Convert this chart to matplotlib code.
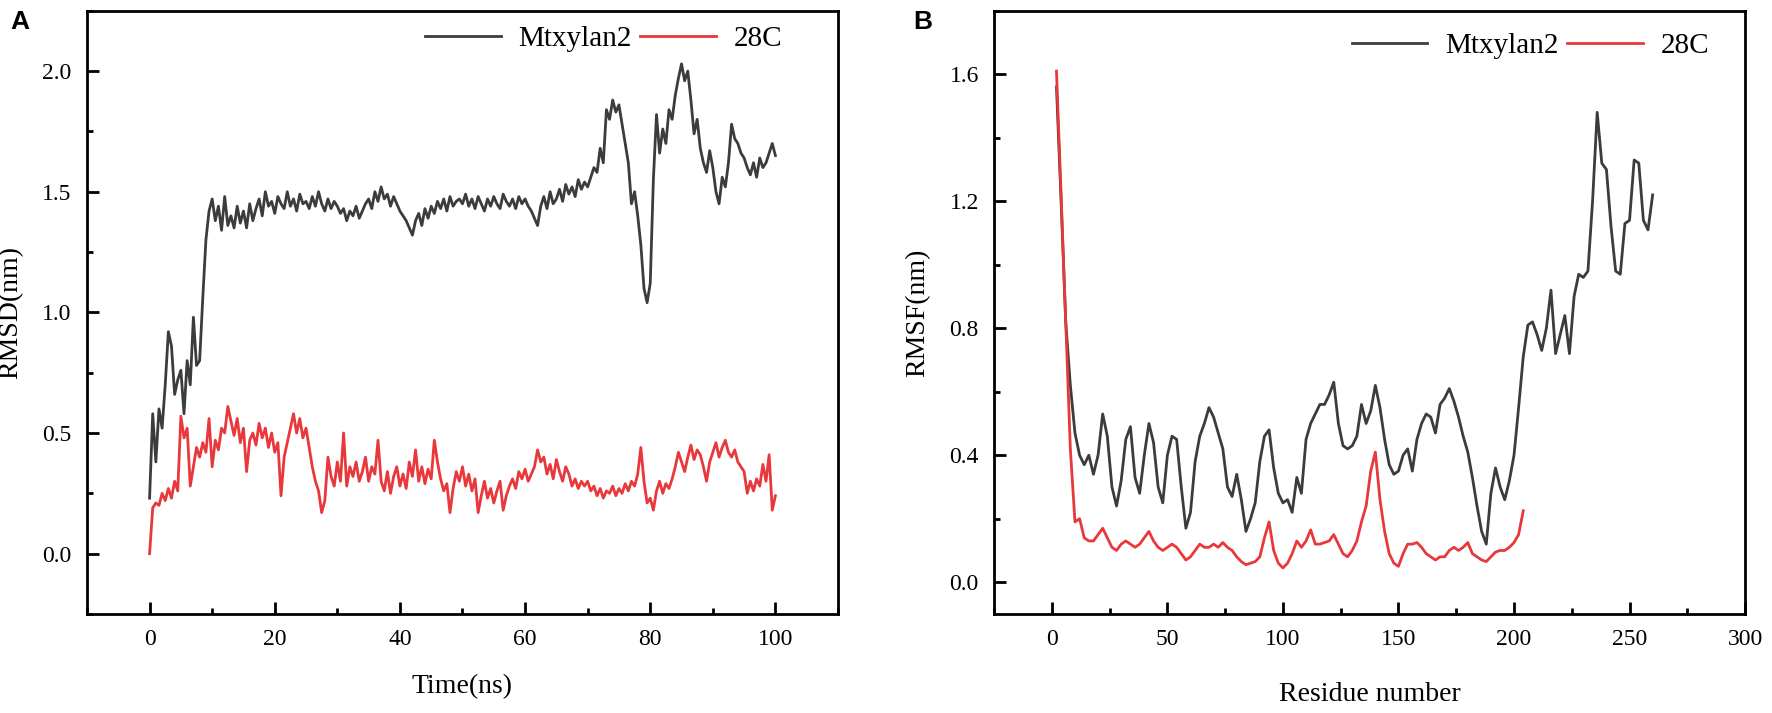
import numpy as np
import matplotlib
matplotlib.use("Agg")
import matplotlib.pyplot as plt
from matplotlib.ticker import MultipleLocator

plt.rcParams['font.family'] = ['Liberation Serif', 'DejaVu Serif']

# --- panel A: RMSD over time (0.5 ns steps) ---
time_ns = np.arange(0, 100.5, 0.5)
rmsd_mtxylan2 = [
    0.23, 0.58, 0.38, 0.60, 0.52, 0.70, 0.92, 0.86, 0.66, 0.72,
    0.76, 0.58, 0.80, 0.70, 0.98, 0.78, 0.80, 1.06, 1.30, 1.42,
    1.47, 1.38, 1.44, 1.34, 1.48, 1.36, 1.40, 1.35, 1.44, 1.37,
    1.42, 1.35, 1.45, 1.38, 1.43, 1.47, 1.40, 1.50, 1.44, 1.46,
    1.41, 1.48, 1.45, 1.43, 1.50, 1.44, 1.47, 1.42, 1.49, 1.45,
    1.46, 1.43, 1.48, 1.44, 1.50, 1.45, 1.42, 1.47, 1.43, 1.46,
    1.44, 1.41, 1.43, 1.38, 1.42, 1.40, 1.44, 1.39, 1.42, 1.45,
    1.47, 1.43, 1.50, 1.46, 1.52, 1.47, 1.49, 1.44, 1.48, 1.45,
    1.42, 1.40, 1.38, 1.35, 1.32, 1.38, 1.41, 1.36, 1.43, 1.39,
    1.44, 1.41, 1.46, 1.43, 1.47, 1.42, 1.48, 1.44, 1.46, 1.47,
    1.45, 1.49, 1.44, 1.47, 1.43, 1.48, 1.45, 1.42, 1.47, 1.44,
    1.48, 1.45, 1.43, 1.49, 1.46, 1.44, 1.47, 1.43, 1.48, 1.45,
    1.47, 1.44, 1.42, 1.39, 1.36, 1.44, 1.48, 1.43, 1.50, 1.45,
    1.47, 1.51, 1.46, 1.53, 1.49, 1.52, 1.48, 1.55, 1.51, 1.54,
    1.52, 1.56, 1.60, 1.58, 1.68, 1.62, 1.84, 1.80, 1.88, 1.83,
    1.86, 1.78, 1.70, 1.62, 1.45, 1.50, 1.40, 1.28, 1.10, 1.04,
    1.12, 1.55, 1.82, 1.66, 1.76, 1.70, 1.84, 1.80, 1.90, 1.97,
    2.03, 1.96, 2.00, 1.88, 1.74, 1.80, 1.68, 1.62, 1.58, 1.67,
    1.60, 1.50, 1.45, 1.56, 1.52, 1.62, 1.78, 1.72, 1.70, 1.66,
    1.64, 1.60, 1.57, 1.62, 1.56, 1.64, 1.60, 1.62, 1.66, 1.70,
    1.65,
]
rmsd_28c = [
    0.00, 0.19, 0.21, 0.20, 0.25, 0.22, 0.27, 0.23, 0.30, 0.26,
    0.57, 0.48, 0.52, 0.28, 0.36, 0.44, 0.40, 0.46, 0.42, 0.56,
    0.36, 0.47, 0.43, 0.52, 0.50, 0.61, 0.55, 0.49, 0.56, 0.46,
    0.52, 0.34, 0.47, 0.50, 0.45, 0.54, 0.48, 0.52, 0.44, 0.50,
    0.42, 0.46, 0.24, 0.40, 0.46, 0.52, 0.58, 0.50, 0.56, 0.48,
    0.52, 0.44, 0.36, 0.30, 0.26, 0.17, 0.22, 0.40, 0.32, 0.28,
    0.38, 0.30, 0.50, 0.28, 0.36, 0.32, 0.38, 0.30, 0.34, 0.40,
    0.30, 0.36, 0.33, 0.47, 0.30, 0.26, 0.34, 0.25, 0.32, 0.36,
    0.28, 0.33, 0.27, 0.38, 0.32, 0.43, 0.30, 0.36, 0.29, 0.35,
    0.31, 0.47, 0.38, 0.31, 0.26, 0.29, 0.17, 0.27, 0.34, 0.30,
    0.36, 0.28, 0.33, 0.26, 0.31, 0.17, 0.24, 0.30, 0.23, 0.27,
    0.21, 0.26, 0.30, 0.18, 0.24, 0.28, 0.31, 0.27, 0.34, 0.31,
    0.35, 0.30, 0.33, 0.36, 0.43, 0.38, 0.40, 0.33, 0.37, 0.31,
    0.39, 0.34, 0.30, 0.36, 0.33, 0.28, 0.31, 0.27, 0.30, 0.28,
    0.30, 0.26, 0.28, 0.24, 0.27, 0.23, 0.26, 0.25, 0.28, 0.24,
    0.27, 0.25, 0.29, 0.26, 0.30, 0.28, 0.33, 0.44, 0.30, 0.21,
    0.23, 0.18, 0.26, 0.30, 0.25, 0.29, 0.27, 0.31, 0.36, 0.42,
    0.38, 0.34, 0.40, 0.45, 0.39, 0.43, 0.41, 0.36, 0.30, 0.38,
    0.42, 0.46, 0.40, 0.44, 0.47, 0.42, 0.40, 0.43, 0.38, 0.36,
    0.34, 0.25, 0.30, 0.26, 0.31, 0.28, 0.37, 0.30, 0.41, 0.18,
    0.24,
]

# --- panel B: RMSF per residue (every 2nd residue) ---
res_mtxylan2 = np.arange(2, 261, 2)
rmsf_mtxylan2 = [
    1.56, 1.20, 0.82, 0.62, 0.47, 0.40, 0.37, 0.40, 0.34, 0.40,
    0.53, 0.46, 0.30, 0.24, 0.32, 0.45, 0.49, 0.33, 0.28, 0.40,
    0.50, 0.44, 0.30, 0.25, 0.40, 0.46, 0.45, 0.30, 0.17, 0.22,
    0.38, 0.46, 0.50, 0.55, 0.52, 0.47, 0.42, 0.30, 0.27, 0.34,
    0.26, 0.16, 0.20, 0.25, 0.38, 0.46, 0.48, 0.36, 0.28, 0.25,
    0.26, 0.22, 0.33, 0.28, 0.45, 0.50, 0.53, 0.56, 0.56, 0.59,
    0.63, 0.50, 0.43, 0.42, 0.43, 0.46, 0.56, 0.50, 0.54, 0.62,
    0.55, 0.45, 0.37, 0.34, 0.35, 0.40, 0.42, 0.35, 0.45, 0.50,
    0.53, 0.52, 0.47, 0.56, 0.58, 0.61, 0.57, 0.52, 0.46, 0.41,
    0.33, 0.24, 0.16, 0.12, 0.28, 0.36, 0.30, 0.26, 0.32, 0.40,
    0.55, 0.71, 0.81, 0.82, 0.78, 0.73, 0.80, 0.92, 0.72, 0.78,
    0.84, 0.72, 0.90, 0.97, 0.96, 0.98, 1.20, 1.48, 1.32, 1.30,
    1.12, 0.98, 0.97, 1.13, 1.14, 1.33, 1.32, 1.14, 1.11, 1.22,
]
res_28c = np.arange(2, 205, 2)
rmsf_28c = [
    1.61, 1.22, 0.82, 0.42, 0.19, 0.20, 0.14, 0.13, 0.13, 0.15,
    0.17, 0.14, 0.11, 0.10, 0.12, 0.13, 0.12, 0.11, 0.12, 0.14,
    0.16, 0.13, 0.11, 0.10, 0.11, 0.12, 0.11, 0.09, 0.07, 0.08,
    0.10, 0.12, 0.11, 0.11, 0.12, 0.11, 0.125, 0.11, 0.10, 0.08,
    0.065, 0.055, 0.06, 0.065, 0.08, 0.14, 0.19, 0.10, 0.06, 0.045,
    0.06, 0.09, 0.13, 0.11, 0.13, 0.165, 0.12, 0.12, 0.125, 0.13,
    0.15, 0.12, 0.09, 0.08, 0.10, 0.13, 0.19, 0.24, 0.35, 0.41,
    0.26, 0.16, 0.09, 0.06, 0.05, 0.09, 0.12, 0.12, 0.125, 0.11,
    0.09, 0.08, 0.07, 0.08, 0.08, 0.10, 0.11, 0.10, 0.11, 0.125,
    0.09, 0.08, 0.07, 0.065, 0.08, 0.095, 0.10, 0.10, 0.11, 0.125,
    0.15, 0.225,
]

BLACK = '#3c3c3c'
RED = '#e8383c'


def style_axes(ax):
    for sp in ax.spines.values():
        sp.set_linewidth(2.0)
        sp.set_color('black')
    ax.tick_params(which='both', direction='in', width=2.0, labelsize=17,
                   pad=11, top=False, right=False)
    ax.tick_params(which='major', length=8.5)
    ax.tick_params(which='minor', length=4.5)


def add_legend(ax, anchor):
    ax.legend(loc='center right', bbox_to_anchor=anchor, frameon=False,
              ncol=2, fontsize=21, handlelength=2.6, handletextpad=0.6,
              columnspacing=0.3, borderpad=0, borderaxespad=0)


fig = plt.figure(figsize=(17.72, 7.13), dpi=100)
ax_a = fig.add_axes([0.0491, 0.1389, 0.4238, 0.846])
ax_b = fig.add_axes([0.5610, 0.1389, 0.4238, 0.846])

# A
ax_a.plot(time_ns, rmsd_mtxylan2, color=BLACK, lw=2.0, label='Mtxylan2')
ax_a.plot(time_ns, rmsd_28c, color=RED, lw=2.0, label='28C')
ax_a.set_xlim(-10, 110)
ax_a.set_ylim(-0.25, 2.25)
ax_a.xaxis.set_major_locator(MultipleLocator(20))
ax_a.xaxis.set_minor_locator(MultipleLocator(10))
ax_a.yaxis.set_major_locator(MultipleLocator(0.5))
ax_a.yaxis.set_minor_locator(MultipleLocator(0.25))
ax_a.set_xticks([0, 20, 40, 60, 80, 100])
ax_a.yaxis.set_major_formatter(lambda v, p: f'{v:.1f}')
style_axes(ax_a)
ax_a.set_xlabel('Time(ns)', fontsize=20)
ax_a.set_ylabel('RMSD(nm)', fontsize=20)
ax_a.xaxis.set_label_coords(0.5, -0.1)
ax_a.yaxis.set_label_coords(-0.085, 0.5)
add_legend(ax_a, (0.926, 0.953))

# B
ax_b.plot(res_mtxylan2, rmsf_mtxylan2, color=BLACK, lw=2.0, label='Mtxylan2')
ax_b.plot(res_28c, rmsf_28c, color=RED, lw=2.0, label='28C')
ax_b.set_xlim(-25, 300)
ax_b.set_ylim(-0.1, 1.8)
ax_b.xaxis.set_major_locator(MultipleLocator(50))
ax_b.xaxis.set_minor_locator(MultipleLocator(25))
ax_b.yaxis.set_major_locator(MultipleLocator(0.4))
ax_b.yaxis.set_minor_locator(MultipleLocator(0.2))
ax_b.yaxis.set_major_formatter(lambda v, p: f'{v:.1f}')
style_axes(ax_b)
ax_b.set_xlabel('Residue number', fontsize=20)
ax_b.set_ylabel('RMSF(nm)', fontsize=20)
ax_b.xaxis.set_label_coords(0.5, -0.112)
ax_b.yaxis.set_label_coords(-0.085, 0.5)
add_legend(ax_b, (0.952, 0.9415))

fig.text(10 / 1772, 1 - 22 / 713, 'A', fontsize=19, fontweight='bold',
         family='Liberation Sans', va='center', ha='left')
fig.text(913 / 1772, 1 - 22 / 713, 'B', fontsize=19, fontweight='bold',
         family='Liberation Sans', va='center', ha='left')

fig.savefig('out.png', dpi=100)
